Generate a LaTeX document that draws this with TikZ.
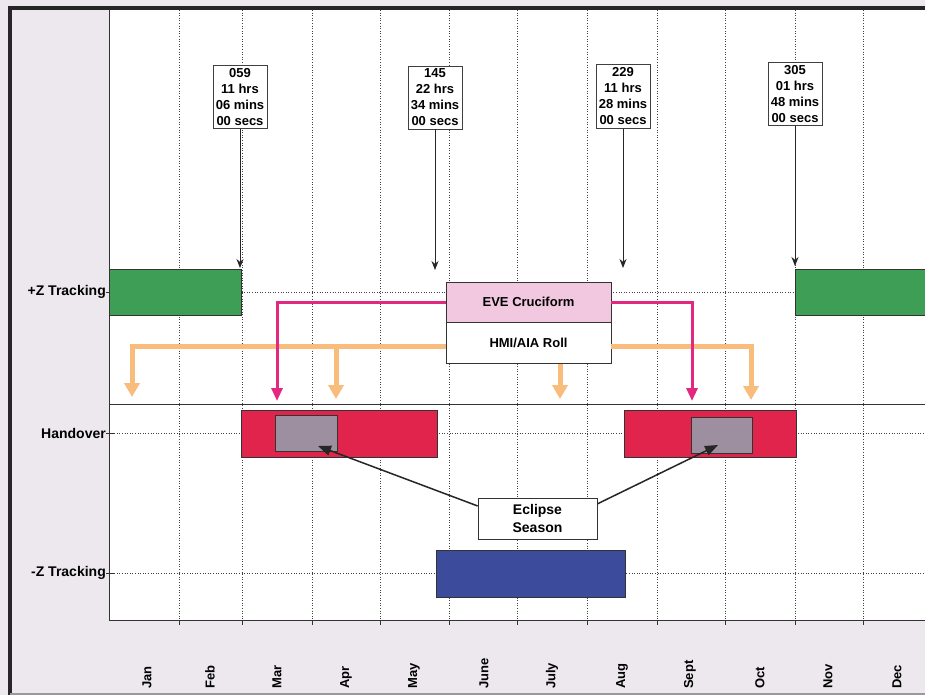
\documentclass[tikz,border=0pt]{standalone}
\usepackage{fontspec}
\setmainfont{Liberation Sans}
\usepackage{tikz}
\usetikzlibrary{positioning,arrows.meta,calc}
\definecolor{sheet}{HTML}{ECE8EE}
\definecolor{zgreen}{HTML}{3F9E55}
\definecolor{hred}{HTML}{E1244B}
\definecolor{egray}{HTML}{9D8F9F}
\definecolor{zblue}{HTML}{3C4B9B}
\definecolor{evepink}{HTML}{F2C8E0}
\definecolor{rollorange}{HTML}{F8BC7C}
\definecolor{crossmag}{HTML}{E2287F}
\tikzset{
  gridline/.style={black!75, line width=1pt, dash pattern=on 1pt off 1.6pt},
  axis/.style={black!80, line width=1pt},
  frame/.style={black!85, line width=3.5pt},
  bar/.style={draw=black!80, line width=0.8pt, inner sep=0pt, minimum height=46pt},
  eclbox/.style={draw=black!80, line width=0.8pt, fill=egray, inner sep=0pt, minimum height=36pt},
  event/.style={draw=black!75, line width=0.8pt, fill=white, align=center, inner xsep=1.5pt,
    inner ysep=3pt, minimum width=54pt, font=\bfseries\fontsize{13}{16}\selectfont},
  modebox/.style={draw=black!80, line width=0.8pt, inner sep=0pt, minimum width=165pt,
    font=\bfseries\fontsize{13}{16}\selectfont},
  rowlabel/.style={anchor=east, inner sep=0pt, font=\bfseries\fontsize{14}{14}\selectfont},
  month/.style={rotate=90, anchor=west, inner sep=0pt, font=\bfseries\fontsize{13}{13}\selectfont},
  marker/.style={black!85, line width=0.8pt, -{Stealth[length=9pt,width=7pt]}},
  pointer/.style={black!85, line width=1.5pt, -{Triangle[length=13pt,width=10pt]}},
  roll/.style={rollorange, line width=5pt, -{Triangle[length=14pt,width=15pt]}},
  cross/.style={crossmag, line width=3pt, -{Triangle[length=13pt,width=11pt]}}
}
\begin{document}
\begin{tikzpicture}[x=1pt,y=-1pt]
  \useasboundingbox (0,0) rectangle (925,695);
  \fill[sheet] (0,0) rectangle (925,695);
  \fill[white] (109,10) rectangle (925,620);

  % grid and axes
  \foreach \gx in {179,242,312,380,449,517,587,657,725,795,863}{
    \draw[gridline] (\gx,10) -- (\gx,620);
    \draw[axis] (\gx,620) -- (\gx,625);
  }
  \foreach \gy in {292,433,573}{
    \draw[gridline] (109,\gy) -- (925,\gy);
    \draw[axis] (106,\gy) -- (115,\gy);
  }
  \draw[axis] (109,404) -- (925,404);
  \draw[axis] (109,10) -- (109,620) -- (925,620);
  \draw[frame] (10,695) -- (10,8) -- (925,8);
  \draw[black!40, line width=1.5pt] (10,694) -- (925,694);

  % rows
  \node[rowlabel] (rowplus) at (106,292) {+Z Tracking};
  \node[rowlabel] (rowhand) at (106,433) {Handover};
  \node[rowlabel] (rowminus) at (106,573) {-Z Tracking};

  % months
  \foreach \m/\mx in {Jan/147,Feb/210,Mar/277,Apr/346,May/414,June/484,
                      July/552,Aug/622,Sept/690,Oct/760,Nov/828,Dec/897}
    \node[month] (m-\m) at (\mx,689) {\m};

  % attitude bars
  \node[bar, fill=zgreen, minimum width=132pt] (trkA) at (175,292) {};
  \node[bar, fill=zgreen, minimum width=135pt] (trkB) at (862.5,292) {};
  \node[bar, fill=hred, minimum width=196pt, minimum height=47pt] (handA) at (339,433.5) {};
  \node[bar, fill=hred, minimum width=172pt, minimum height=47pt] (handB) at (710,433.5) {};
  \node[eclbox, minimum width=62pt] (eclA) at (306,433) {};
  \node[eclbox, minimum width=61pt] (eclB) at (721.5,435) {};
  \node[bar, fill=zblue, minimum width=189pt, minimum height=47pt] (trkneg) at (530.5,573.5) {};

  % manoeuvres
  \node[modebox, fill=evepink, minimum height=40pt] (eve) at (528.5,302) {EVE Cruciform};
  \node[modebox, fill=white, minimum height=41pt, below=0pt of eve] (hmi) {HMI/AIA Roll};

  \coordinate (rollL) at (446,346);
  \coordinate (rollR) at (611,346);
  \coordinate (oA) at (132,397);
  \coordinate (oB) at (336,399);
  \coordinate (oC) at (560,399);
  \coordinate (oD) at (751,400);
  \coordinate (pA) at (277,401);
  \coordinate (pB) at (692,401);

  \draw[roll] (rollL) -| (oA);
  \draw[roll] (oB |- rollL) -- (oB);
  \draw[roll] (hmi.south -| oC) -- (oC);
  \draw[roll] (rollR) -| (oD);
  \draw[cross] (eve.west) -| (pA);
  \draw[cross] (eve.east) -| (pB);

  % events
  \node[event] (ev059) at (240,97) {059\\11 hrs\\06 mins\\00 secs};
  \node[event] (ev145) at (435,97.5) {145\\22 hrs\\34 mins\\00 secs};
  \node[event] (ev229) at (623,96.5) {229\\11 hrs\\28 mins\\00 secs};
  \node[event] (ev305) at (795,94) {305\\01 hrs\\48 mins\\00 secs};
  \coordinate (hit059) at (240,268);
  \coordinate (hit145) at (435,270);
  \coordinate (hit229) at (623,268);
  \coordinate (hit305) at (795,266);
  \draw[marker] (ev059) -- (hit059);
  \draw[marker] (ev145) -- (hit145);
  \draw[marker] (ev229) -- (hit229);
  \draw[marker] (ev305) -- (hit305);

  % eclipse season
  \node[draw=black!80, line width=0.8pt, fill=white, align=center, minimum width=119pt,
    minimum height=41pt, inner sep=0pt, font=\bfseries\fontsize{14}{18}\selectfont]
    (ecl) at (537.5,518.5) {Eclipse\\Season};
  \coordinate (hitL) at (318,446);
  \coordinate (hitR) at (718,445);
  \draw[pointer] ($(ecl.north west)!0.2!(ecl.south west)$) -- (hitL);
  \draw[pointer] ($(ecl.north east)!0.15!(ecl.south east)$) -- (hitR);
\end{tikzpicture}
\end{document}
